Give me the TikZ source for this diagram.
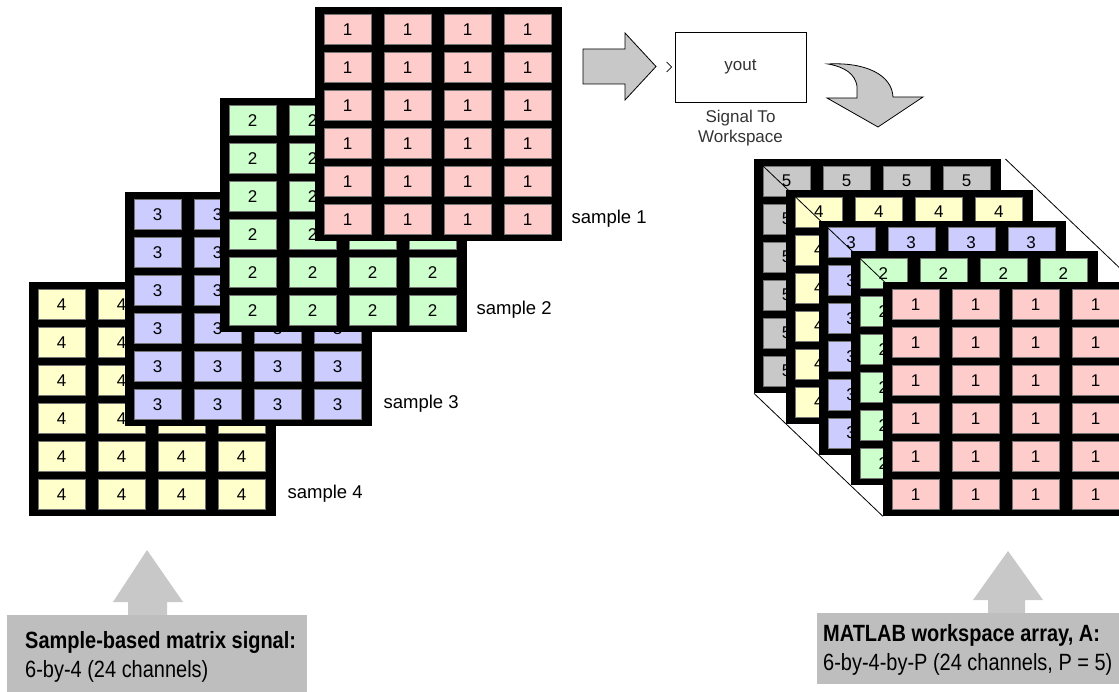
\documentclass[tikz,border=0pt]{standalone}
\usepackage{fontspec}
\setmainfont{Liberation Sans}
\newfontfamily\condfont[FakeStretch=0.85]{Liberation Sans}
\usetikzlibrary{positioning}

\definecolor{onepink}{HTML}{FFCCCC}
\definecolor{twogreen}{HTML}{CCFFCC}
\definecolor{threeblue}{HTML}{CCCCFF}
\definecolor{fouryellow}{HTML}{FFFFCC}
\definecolor{fivegrey}{HTML}{C8C8C8}
\definecolor{arrowgrey}{HTML}{C8C8C8}
\definecolor{notegrey}{HTML}{BEBEBE}

% one 6-by-4 sample: name, x, y, cell colour, value
\newcommand{\drawsample}[5]{%
  \node (#1) [matbox] at (#2,#3) {};
  \foreach \r in {0,...,5}
    \foreach \c in {0,...,3}
      \node (#1-\r-\c) [cellbox, fill=#4] at ([xshift=9pt+\c*60pt, yshift=-7pt-\r*38pt]#1.north west) {#5};
}

\begin{document}
\begin{tikzpicture}[x=1pt, y=-1pt,
    matbox/.style={fill=black, inner sep=0pt, minimum width=247pt, minimum height=234pt, anchor=north west},
    cellbox/.style={draw=black!55, line width=0.4pt, inner sep=0pt, minimum width=47pt, minimum height=30pt, anchor=north west, font=\fontsize{17pt}{20pt}\selectfont},
    samplelabel/.style={anchor=west, inner sep=0pt, font=\fontsize{18.5pt}{22pt}\selectfont},
    blockarrow/.style={fill=arrowgrey, draw=black, line width=0.8pt},
    notebox/.style={fill=notegrey, inner sep=0pt, anchor=north west},
    notetext/.style={anchor=north west, inner sep=0pt, align=left, font={\condfont\fontsize{23.5pt}{29pt}\selectfont}},
    depthline/.style={line width=0.8pt}]
  \useasboundingbox (0,0) rectangle (1119,692);
  \clip (0,0) rectangle (1119,692);

  % Input samples, back one first
  \drawsample{m4}{29}{282}{fouryellow}{4}
  \drawsample{m3}{125}{192}{threeblue}{3}
  \drawsample{m2}{220}{98}{twogreen}{2}
  \drawsample{m1}{315}{7}{onepink}{1}

  \node (lab1) [samplelabel] at ([xshift=9pt]m1.east |- m1-5-3) {sample 1};
  \node (lab2) [samplelabel] at ([xshift=9pt]m2.east |- m2-5-3) {sample 2};
  \node (lab3) [samplelabel] at ([xshift=11pt]m3.east |- m3-5-3) {sample 3};
  \node (lab4) [samplelabel] at ([xshift=11pt]m4.east |- m4-5-3) {sample 4};

  % Block arrow into the To Workspace block
  \draw [blockarrow] (583,49) -- (625,49) -- (625,33) -- (656,66.5) -- (625,100) -- (625,84) -- (583,84) -- cycle;

  \node (towks) [draw, line width=0.8pt, minimum width=131pt, minimum height=70pt, inner sep=0pt, font=\fontsize{17pt}{20pt}\selectfont, text=black!80] at (740.5,67) {yout};
  \node (towkslabel) [below=8pt of towks, align=center, inner sep=0pt, font=\fontsize{17pt}{20pt}\selectfont, text=black!80] {Signal To\\Workspace};
  \draw [line width=0.7pt] ([xshift=-8pt, yshift=5pt]towks.west) -- ([xshift=-3pt]towks.west) -- ([xshift=-8pt, yshift=-5pt]towks.west);

  % Curved block arrow down to the workspace array
  \draw [blockarrow] (828,64) .. controls (866,62) and (892,75) .. (893,97) -- (923,97) -- (878,127) -- (827,98) -- (857,98) -- (857,86) .. controls (855,74) and (845,67) .. (828,64) -- cycle;

  % Workspace array, P = 5 pages
  \drawsample{r5}{754}{159}{fivegrey}{5}
  \drawsample{r4}{786.25}{189.75}{fouryellow}{4}
  \drawsample{r3}{818.5}{220.5}{threeblue}{3}
  \drawsample{r2}{850.75}{251.25}{twogreen}{2}
  \drawsample{r1}{883}{282}{onepink}{1}

  % Depth edges of the array
  \draw [depthline] (r5-0-0.north west) -- (r1-0-0.north west);
  \draw [depthline] ([xshift=4pt]r5.north east) -- ([xshift=4pt]r1.north east);
  \draw [depthline] (r5.south west) -- (r1.south west);

  % Notes at the bottom
  \fill [arrowgrey] (128,615) -- (128,602) -- (113,602) -- (147,550) -- (183,602) -- (167,602) -- (167,615) -- cycle;
  \node (srcnote) [notebox, minimum width=300pt, minimum height=90pt] at (7,615) {};
  \node (srctext) [notetext] at ([xshift=18pt, yshift=-16pt]srcnote.north west) {\textbf{Sample-based matrix signal:}\\6-by-4 (24 channels)};

  \fill [arrowgrey] (988,613) -- (988,600) -- (973,600) -- (1008,551) -- (1043,600) -- (1025,600) -- (1025,613) -- cycle;
  \node (wksnote) [notebox, minimum width=310pt, minimum height=71pt] at (817,613) {};
  \node (wkstext) [notetext] at ([xshift=6pt, yshift=-11pt]wksnote.north west) {\textbf{MATLAB workspace array, A:}\\6-by-4-by-P (24 channels, P = 5)};
\end{tikzpicture}
\end{document}
